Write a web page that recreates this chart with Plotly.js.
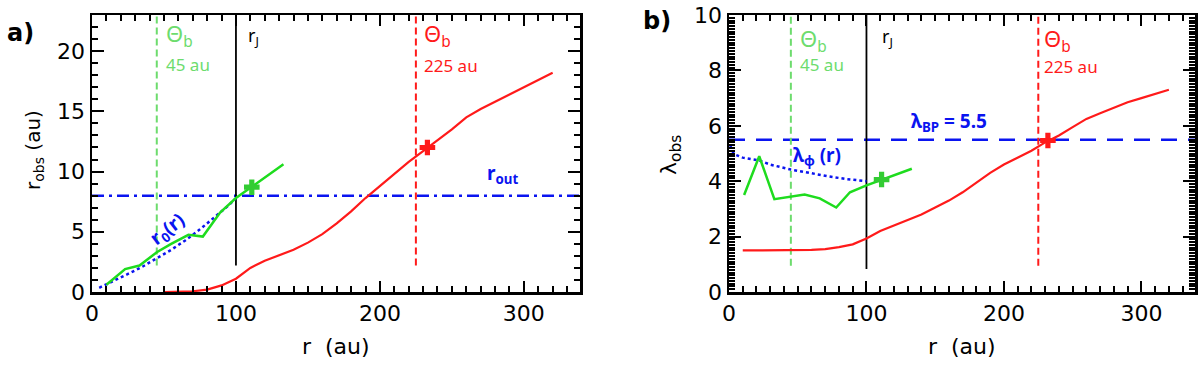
<!DOCTYPE html>
<html>
<head>
<meta charset="utf-8">
<script src="https://cdn.plot.ly/plotly-3.0.1.min.js"></script>
<style>
  body { margin: 0; background: #fff; }
  #chart { width: 1200px; height: 371px; }
  #done { position: absolute; left: 0; top: 0; width: 1px; height: 1px; background: #fff; }
</style>
</head>
<body>
<div id="chart"></div>
<div id="done"></div>
<script>
// ---- panel a) r_obs vs r ----
var rRedA = [50, 60, 70, 80, 90, 100, 110, 120, 130, 140, 150, 160, 170, 180, 190, 200, 210, 220, 230, 240, 250, 260, 270, 280, 290, 300, 310, 320];
var robsRed = [0, 0.02, 0.06, 0.2, 0.55, 1.1, 2.0, 2.6, 3.05, 3.5, 4.1, 4.8, 5.7, 6.7, 7.8, 8.8, 9.8, 10.8, 11.7, 12.6, 13.5, 14.5, 15.2, 15.8, 16.4, 17.0, 17.6, 18.2];
var rGreenA = [10, 23, 33, 45, 55, 67, 77, 89, 100, 133];
var robsGreen = [0.6, 1.9, 2.2, 3.3, 4.0, 4.75, 4.6, 6.6, 7.8, 10.6];
var rModelA = [5, 15, 25, 35, 45, 55, 65, 75, 85, 95, 100];
var r0Model = [0.35, 0.9, 1.5, 2.1, 2.8, 3.5, 4.3, 5.2, 6.2, 7.2, 7.8];
var markA = { green: [111, 8.7], red: [233, 12.0] };

// ---- panel b) lambda_obs vs r ----
var rRedB = [10, 20, 30, 40, 50, 60, 70, 80, 90, 100, 110, 120, 130, 140, 150, 160, 170, 180, 190, 200, 210, 220, 230, 240, 250, 260, 270, 280, 290, 300, 310, 320];
var lamRed = [1.5, 1.5, 1.5, 1.5, 1.5, 1.52, 1.55, 1.62, 1.72, 1.93, 2.2, 2.4, 2.6, 2.8, 3.05, 3.3, 3.6, 3.95, 4.3, 4.6, 4.85, 5.1, 5.4, 5.65, 5.95, 6.25, 6.45, 6.65, 6.85, 7.0, 7.15, 7.3];
var rGreenB = [11, 22, 33, 45, 55, 66, 78, 88, 100, 133];
var lamGreen = [3.5, 4.9, 3.35, 3.45, 3.52, 3.38, 3.05, 3.6, 3.85, 4.45];
var rModelB = [1, 2, 5, 10, 22, 30, 45, 60, 73, 85, 100];
var lamPhi = [5.3, 5.1, 4.95, 4.85, 4.75, 4.6, 4.42, 4.28, 4.17, 4.08, 4.0];
var markB = { green: [111, 4.06], red: [232, 5.47] };

// reference lines
var thetaInner = 45, thetaOuter = 225, rJ = 100;
var rOut = 8, lambdaBP = 5.5;
var xMax = 339, yMaxA = 23, yMaxB = 10;
var lineFloorA = 2.2, lineFloorB = 0.95;

var RED = '#ff1a1a', GREEN = '#1edc1e', LGREEN = '#6ddc6d', BLUE = '#0a14f0';

function ln(x, y, xa, ya, color, width, dash) {
    return { type: 'scatter', mode: 'lines', x: x, y: y, xaxis: xa, yaxis: ya,
             line: { color: color, width: width, dash: dash || 'solid' } };
}
function mk(p, xa, ya, color) {
    return { type: 'scatter', mode: 'markers', x: [p[0]], y: [p[1]], xaxis: xa, yaxis: ya,
             marker: { symbol: 'cross', size: 13, color: color } };
}

var data = [
    // panel a
    ln([0, xMax], [rOut, rOut], 'x', 'y', BLUE, 2.5, '12px,5px,3px,5px'),
    ln([thetaInner, thetaInner], [lineFloorA, yMaxA], 'x', 'y', LGREEN, 2, '7px,4px'),
    ln([thetaOuter, thetaOuter], [lineFloorA, yMaxA], 'x', 'y', RED, 2, '7px,4px'),
    ln([rJ, rJ], [lineFloorA, yMaxA], 'x', 'y', '#000', 1.8),
    ln(rModelA, r0Model, 'x', 'y', BLUE, 2.5, 'dot'),
    ln(rGreenA, robsGreen, 'x', 'y', GREEN, 2.5),
    ln(rRedA, robsRed, 'x', 'y', RED, 2.2),
    mk(markA.green, 'x', 'y', '#33cc33'),
    mk(markA.red, 'x', 'y', RED),
    // panel b
    ln([0, xMax], [lambdaBP, lambdaBP], 'x2', 'y2', BLUE, 2.5, '16px,11px'),
    ln([thetaInner, thetaInner], [lineFloorB, yMaxB], 'x2', 'y2', LGREEN, 2, '7px,4px'),
    ln([thetaOuter, thetaOuter], [lineFloorB, yMaxB], 'x2', 'y2', RED, 2, '7px,4px'),
    ln([rJ, rJ], [0.83, yMaxB], 'x2', 'y2', '#000', 1.8),
    ln(rModelB, lamPhi, 'x2', 'y2', BLUE, 2.5, 'dot'),
    ln(rGreenB, lamGreen, 'x2', 'y2', GREEN, 2.5),
    ln(rRedB, lamRed, 'x2', 'y2', RED, 2.2),
    mk(markB.green, 'x2', 'y2', '#33cc33'),
    mk(markB.red, 'x2', 'y2', RED)
];

var tickFont = { family: 'DejaVu Sans', size: 22, color: '#000' };
function xax(domain, anchor) {
    return { domain: domain, anchor: anchor, range: [0, xMax], dtick: 100, tick0: 0,
             ticks: 'inside', ticklen: 11, tickwidth: 2, tickcolor: '#000',
             minor: { dtick: 10, ticklen: 6, tickwidth: 2, tickcolor: '#000', ticks: 'inside' },
             showline: true, linewidth: 2.5, linecolor: '#000', mirror: 'ticks',
             showgrid: false, zeroline: false, tickfont: tickFont };
}
function yax(domain, anchor, range, dtick, minorDtick) {
    return { domain: domain, anchor: anchor, range: range, dtick: dtick, tick0: 0,
             ticks: 'inside', ticklen: 12, tickwidth: 2, tickcolor: '#000',
             minor: { dtick: minorDtick, ticklen: 6, tickwidth: 2, tickcolor: '#000', ticks: 'inside' },
             showline: true, linewidth: 2.5, linecolor: '#000', mirror: 'ticks',
             showgrid: false, zeroline: false, tickfont: tickFont };
}

var txt = 'Noto Sans';
function note(x, y, xr, yr, text, color, size, opts) {
    var a = { x: x, y: y, xref: xr, yref: yr, text: text, showarrow: false,
              font: { family: txt, size: size, color: color }, xanchor: 'left', yanchor: 'middle' };
    for (var k in (opts || {})) a[k] = opts[k];
    return a;
}
var axFont = function (size) { return { family: 'DejaVu Sans', size: size, color: '#000' }; };

var annotations = [
    // panel a
    note(thetaInner + 5, 21.3, 'x', 'y', '\u0398<sub>b</sub>', LGREEN, 22),
    note(thetaInner + 5, 18.9, 'x', 'y', thetaInner + ' au', LGREEN, 17),
    note(rJ + 7, 21.2, 'x', 'y', 'r<sub>J</sub>', '#000', 18),
    note(thetaOuter + 4, 21.3, 'x', 'y', '\u0398<sub>b</sub>', RED, 22),
    note(thetaOuter + 4, 18.8, 'x', 'y', thetaOuter + ' au', RED, 17),
    note(285, 9.8, 'x', 'y', '<b>r<sub>out</sub></b>', BLUE, 19, { xanchor: 'center' }),
    note(53, 5.2, 'x', 'y', '<b>r<sub>0</sub>(r)</b>', BLUE, 19, { xanchor: 'center', textangle: -38 }),
    // panel b
    note(thetaInner + 5, 9.1, 'x2', 'y2', '\u0398<sub>b</sub>', LGREEN, 22),
    note(thetaInner + 5, 8.2, 'x2', 'y2', thetaInner + ' au', LGREEN, 17),
    note(rJ + 10, 9.17, 'x2', 'y2', 'r<sub>J</sub>', '#000', 18),
    note(thetaOuter + 3, 9.1, 'x2', 'y2', '\u0398<sub>b</sub>', RED, 22),
    note(thetaOuter + 3, 8.15, 'x2', 'y2', thetaOuter + ' au', RED, 17),
    note(160, 6.15, 'x2', 'y2', '<b>\u03bb<sub>BP</sub> = ' + lambdaBP + '</b>', BLUE, 19, { xanchor: 'center' }),
    note(64, 4.9, 'x2', 'y2', '<b>\u03bb<sub>\u03c6</sub> (r)</b>', BLUE, 19, { xanchor: 'center' }),
    // panel letters and axis titles
    note(20 / 1200, 1 - 33 / 371, 'paper', 'paper', '<b>a)</b>', '#000', 24, { xanchor: 'center', font: axFont(24) }),
    note(657 / 1200, 1 - 21 / 371, 'paper', 'paper', '<b>b)</b>', '#000', 24, { xanchor: 'center', font: axFont(24) }),
    note(34 / 1200, 1 - 150 / 371, 'paper', 'paper', 'r<sub>obs</sub> (au)', '#000', 20, { xanchor: 'center', textangle: -90, font: axFont(20) }),
    note(670 / 1200, 1 - 155 / 371, 'paper', 'paper', '\u03bb<sub>obs</sub>', '#000', 22, { xanchor: 'center', textangle: -90, font: axFont(22) }),
    note(336 / 1200, 1 - 346 / 371, 'paper', 'paper', 'r  (au)', '#000', 22, { xanchor: 'center', font: axFont(22) }),
    note(962 / 1200, 1 - 346 / 371, 'paper', 'paper', 'r  (au)', '#000', 22, { xanchor: 'center', font: axFont(22) })
];

var yDom = [1 - 292 / 371, 1 - 15 / 371];
var layout = {
    width: 1200, height: 371,
    margin: { l: 0, r: 0, t: 0, b: 0 },
    font: { family: 'DejaVu Sans', color: '#000' },
    paper_bgcolor: '#fff', plot_bgcolor: '#fff',
    showlegend: false,
    xaxis: xax([92 / 1200, 580 / 1200], 'y'),
    yaxis: yax(yDom, 'x', [0, yMaxA], 5, 1),
    xaxis2: xax([729 / 1200, 1195 / 1200], 'y2'),
    yaxis2: yax(yDom, 'x2', [0, yMaxB], 2, 0.1),
    annotations: annotations
};

Plotly.newPlot('chart', data, layout, { staticPlot: true }).then(function (gd) {
    // touch the DOM once the plot is finished so the last frame gets painted
    var q = document.querySelectorAll('path[class*=tick]');
    for (var i = 0; i < q.length; i++) q[i].getBBox();
    document.getElementById('done').textContent = ' ';
    document.body.setAttribute('data-ticks', q.length);
});
</script>
</body>
</html>
